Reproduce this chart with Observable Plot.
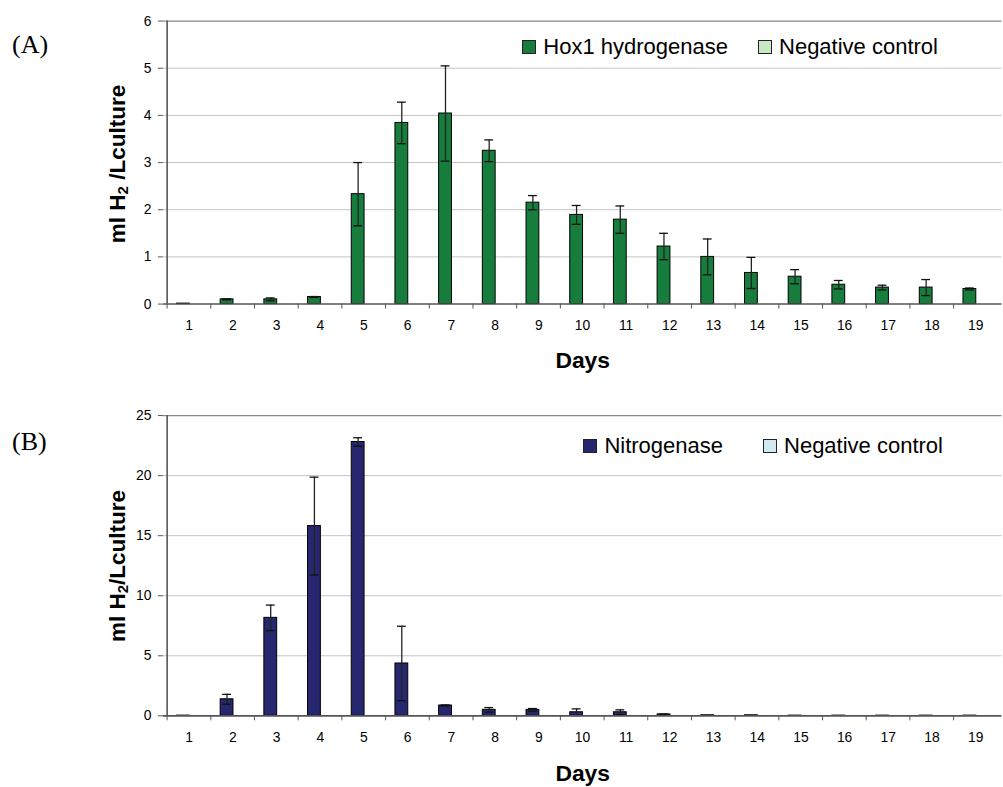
<!DOCTYPE html>
<html>
<head>
<meta charset="utf-8">
<script src="https://cdn.jsdelivr.net/npm/d3@7"></script>
<script src="https://cdn.jsdelivr.net/npm/@observablehq/plot@0.6"></script>
<style>
  html, body { margin: 0; padding: 0; background: #fff; overflow: hidden; }
  #wrap { position: relative; width: 1003px; height: 787px; overflow: hidden; font-family: "Liberation Sans", Arial, sans-serif; }
  .panel { position: absolute; left: 0; }
  .plabel { position: absolute; font-family: "Liberation Serif", "Times New Roman", serif; font-size: 26px; line-height: 1; transform: translateY(-50%); }
  .ytitle { position: absolute; font-weight: bold; font-size: 22.5px; white-space: nowrap; transform: translate(-50%, -50%) rotate(-90deg); line-height: 1; }
  .ytitle sub { font-size: 15px; vertical-align: -3px; }
  .legend { position: absolute; display: flex; align-items: center; font-size: 22px; transform: translateY(-50%); white-space: nowrap; }
  .legend .sw { width: 12px; height: 12px; border: 1px solid #222; margin-right: 7px; }
  .legend .item { display: flex; align-items: center; }
</style>
</head>
<body>
<div id="wrap"></div>
<script>
// ---- data ----
const days = ["1","2","3","4","5","6","7","8","9","10","11","12","13","14","15","16","17","18","19"];

const hoxValues = [0.01, 0.10, 0.10, 0.15, 2.33, 3.84, 4.04, 3.25, 2.15, 1.89, 1.79, 1.22, 1.00, 0.66, 0.58, 0.41, 0.35, 0.35, 0.32];
const hoxErrors = [0.00, 0.01, 0.03, 0.01, 0.67, 0.44, 1.01, 0.23, 0.15, 0.20, 0.29, 0.28, 0.38, 0.33, 0.15, 0.09, 0.05, 0.17, 0.02];
const hoxNegControl = [0, 0, 0, 0, 0, 0, 0, 0, 0, 0, 0, 0, 0, 0, 0, 0, 0, 0, 0];

const nitroValues = [0.02, 1.38, 8.16, 15.8, 22.8, 4.36, 0.86, 0.50, 0.50, 0.30, 0.30, 0.12, 0.05, 0.05, 0.02, 0.02, 0.02, 0.02, 0.02];
const nitroErrors = [0.00, 0.41, 1.06, 4.07, 0.35, 3.10, 0.05, 0.19, 0.11, 0.28, 0.20, 0.03, 0.00, 0.00, 0.00, 0.00, 0.00, 0.00, 0.00];
const nitroNegControl = [0, 0, 0, 0, 0, 0, 0, 0, 0, 0, 0, 0, 0, 0, 0, 0, 0, 0, 0];

const yTicksA = [0, 1, 2, 3, 4, 5, 6];
const yTicksB = [0, 5, 10, 15, 20, 25];

const seriesA = ["Hox1 hydrogenase", "Negative control"];
const seriesB = ["Nitrogenase", "Negative control"];
const colorsA = ["#167d3d", "#c9e7c5"];
const colorsB = ["#26276e", "#d0eaf0"];

// ---- drawing ----
function panel({values, errors, neg, yTicks, colors, height, marginTop, marginBottom, daysDy}) {
  const rows = days.map((d, i) => ({day: d, v: values[i], e: errors[i], n: neg[i]}));
  const err = rows.filter(d => d.e > 0);
  const yMax = yTicks[yTicks.length - 1];
  return Plot.plot({
    width: 1010,
    height,
    marginLeft: 164,
    marginRight: 1.5,
    marginTop,
    marginBottom,
    style: {fontFamily: "'Liberation Sans', Arial, sans-serif", fontSize: "14px", color: "#000", background: "transparent"},
    x: {type: "band", domain: days, padding: 0},
    y: {domain: [0, yMax]},
    marks: [
      Plot.gridY(yTicks.slice(1, -1), {stroke: "#c4c4c4", strokeOpacity: 1}),
      Plot.ruleY([yMax], {stroke: "#8a8a8a", strokeWidth: 1.2}),
      Plot.barY(rows, {x: "day", y: "v", fill: colors[0], stroke: "#000", strokeWidth: 1, insetLeft: 9.7, insetRight: 21.4}),
      Plot.barY(rows, {x: "day", y: "n", fill: colors[1], insetLeft: 23, insetRight: 8.1}),
      Plot.ruleX(err, {x: "day", y1: d => d.v - d.e, y2: d => d.v + d.e, dx: -5.9, stroke: "#222", strokeWidth: 1.3}),
      Plot.tickY(err, {x: "day", y: d => d.v + d.e, insetLeft: 11.7, insetRight: 23.4, stroke: "#111", strokeWidth: 1.3}),
      Plot.tickY(err, {x: "day", y: d => d.v - d.e, insetLeft: 11.7, insetRight: 23.4, stroke: "#111", strokeWidth: 1.3}),
      Plot.ruleY([0], {stroke: "#555", strokeWidth: 1.6}),
      Plot.axisY(yTicks, {tickSize: 5, tickPadding: 7, stroke: "#555", label: null, fontSize: 14}),
      Plot.ruleX([0], {x: () => days[0], dx: -22.2, y1: 0, y2: yMax, stroke: "#555", strokeWidth: 1.6}),
      Plot.axisX({tickSize: 0, tickPadding: 16, label: null, fontSize: 14}),
      Plot.axisX({tickSize: 5, tickFormat: () => "", dx: -22.22, stroke: "#555", label: null}),
      Plot.text(["Days"], {frameAnchor: "bottom", lineAnchor: "middle", dy: daysDy, fontWeight: "bold", fontSize: 23, fill: "#000"})
    ]
  });
}

const wrap = document.getElementById("wrap");

const A = panel({values: hoxValues, errors: hoxErrors, neg: hoxNegControl, yTicks: yTicksA, colors: colorsA,
  height: 380, marginTop: 20.7, marginBottom: 74.3, daysDy: 57});
A.classList.add("panel"); A.style.top = "0px";
wrap.appendChild(A);

const B = panel({values: nitroValues, errors: nitroErrors, neg: nitroNegControl, yTicks: yTicksB, colors: colorsB,
  height: 410, marginTop: 35.3, marginBottom: 72.3, daysDy: 58});
B.classList.add("panel"); B.style.top = "380px";
wrap.appendChild(B);

function addHTML(html) { const t = document.createElement("template"); t.innerHTML = html.trim(); wrap.appendChild(t.content.firstChild); }

addHTML(`<div class="plabel" style="left:12px; top:45px;">(A)</div>`);
addHTML(`<div class="plabel" style="left:12px; top:442px;">(B)</div>`);
addHTML(`<div class="ytitle" style="left:118px; top:164px;">ml H<sub>2</sub> /Lculture</div>`);
addHTML(`<div class="ytitle" style="left:118px; top:566px;">ml H<sub>2</sub>/Lculture</div>`);

function legend(series, colors, right, top, gap) {
  const items = series.map((s, i) =>
    `<div class="item" style="${i ? `margin-left:${gap}px` : ""}"><div class="sw" style="background:${colors[i]}"></div><span>${s}</span></div>`).join("");
  addHTML(`<div class="legend" style="right:${right}px; top:${top}px;">${items}</div>`);
}
legend(seriesA, colorsA, 65, 47, 30);
legend(seriesB, colorsB, 60, 446, 40);
</script>
</body>
</html>
